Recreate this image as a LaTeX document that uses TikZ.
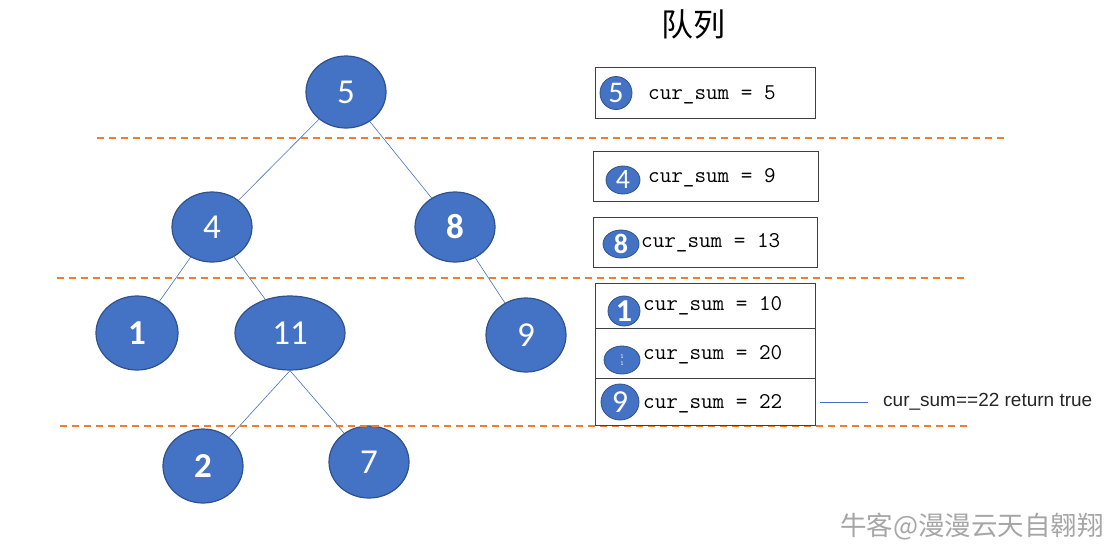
\documentclass[tikz,border=0pt]{standalone}
\usepackage{fontspec}
\setmainfont{Carlito}
\setsansfont{Liberation Sans}
\newfontfamily\cjk{Noto Sans CJK SC}
\usetikzlibrary{shapes.geometric}
\definecolor{nodeblue}{HTML}{4472C4}
\definecolor{nodeline}{HTML}{2F528F}
\definecolor{cutorange}{HTML}{ED7D31}

\begin{document}
\begin{tikzpicture}[x=1pt,y=-1pt,
  tree/.style={ellipse,draw=nodeline,fill=nodeblue,line width=1.2pt,text=white,
    inner sep=0pt,minimum width=80pt,minimum height=72pt,
    font=\fontsize{35}{35}\selectfont},
  badge/.style={ellipse,draw=nodeline,fill=nodeblue,line width=0.8pt,text=white,
    inner sep=0pt,font=\fontsize{28}{28}\selectfont},
  qbox/.style={draw=black!75,line width=0.9pt,minimum width=220pt,inner sep=0pt},
  sumtext/.style={anchor=west,inner sep=0pt,font=\ttfamily\fontsize{22.5}{22.5}\selectfont},
  edge/.style={draw=nodeblue,line width=0.6pt},
  cut/.style={draw=cutorange,line width=1.6pt,dash pattern=on 7pt off 5pt}]
  \useasboundingbox (0,0) rectangle (1113,552);

  % tree
  \node[tree] (n5) at (346,92) {5};
  \node[tree,minimum height=70pt] (n4) at (212,227) {4};
  \node[tree,minimum height=70pt,font=\fontsize{35}{35}\selectfont\bfseries] (n8) at (455,227) {8};
  \node[tree,minimum width=82pt,minimum height=74pt,font=\fontsize{35}{35}\selectfont\bfseries] (n1) at (137,333) {1};
  \node[tree,minimum width=110pt,minimum height=74pt] (n11) at (290,333) {11};
  \node[tree,minimum height=74pt] (n9) at (526,335) {9};
  \node[tree,minimum height=74pt,font=\fontsize{35}{35}\selectfont\bfseries] (n2) at (203,466) {2};
  \node[tree,minimum height=72pt] (n7) at (369,462) {7};

  \draw[edge] (n5) -- (n4);
  \draw[edge] (n5) -- (n8);
  \draw[edge] (n4) -- (n1);
  \draw[edge] (n4) -- (n11);
  \draw[edge] (n8) -- (n9);
  \draw[edge] (n11.south) -- (n2);
  \draw[edge] (n11.south) -- (n7);

  % level cuts
  \coordinate (c1a) at (97,138);  \coordinate (c1b) at (1005,138);
  \coordinate (c2a) at (57,278);  \coordinate (c2b) at (965,278);
  \coordinate (c3a) at (60,426);  \coordinate (c3b) at (968,426);
  \draw[cut] (c1a) -- (c1b);
  \draw[cut] (c2a) -- (c2b);
  \draw[cut] (c3a) -- (c3b);

  % queue
  \node[font=\cjk\fontsize{32}{32}\selectfont] (title) at (693,24) {队列};

  \node[qbox,minimum height=51pt] (q1) at (705,92.5) {};
  \node[qbox,minimum width=225pt,minimum height=50pt] (q2) at (705.5,176) {};
  \node[qbox,minimum width=224pt,minimum height=50pt] (q3) at (705,242) {};
  \node[qbox,minimum height=45pt] (q4) at (705,305.5) {};
  \node[qbox,minimum height=50pt] (q5) at (705,353) {};
  \node[qbox,minimum height=47pt] (q6) at (705,401.5) {};

  \node[badge,minimum width=32pt,minimum height=33pt,font=\fontsize{30}{30}\selectfont] (b1) at (616,93) {5};
  \node[badge,minimum width=34pt,minimum height=28pt] (b2) at (623,180) {4};
  \node[badge,minimum width=36pt,minimum height=28pt,font=\fontsize{28}{28}\selectfont\bfseries] (b3) at (621,244) {8};
  \node[badge,minimum width=32pt,minimum height=30pt,font=\fontsize{32}{32}\selectfont\bfseries] (b4) at (624,311) {1};
  \node[badge,minimum width=36pt,minimum height=28pt,font=\fontsize{6}{6}\selectfont] (b5) at (622,360) {\shortstack{1\\1}};
  \node[badge,minimum width=38pt,minimum height=36pt,font=\fontsize{32}{32}\selectfont] (b6) at (620,402) {9};

  \node[sumtext] (s1) at (648,95) {cur\_sum = 5};
  \node[sumtext] (s2) at (648,178) {cur\_sum = 9};
  \node[sumtext] (s3) at (641,243) {cur\_sum = 13};
  \node[sumtext] (s4) at (643,306) {cur\_sum = 10};
  \node[sumtext] (s5) at (643,355) {cur\_sum = 20};
  \node[sumtext] (s6) at (643,404) {cur\_sum = 22};

  \node[anchor=west,inner sep=0pt,font=\sffamily\fontsize{19}{19}\selectfont,text=black!85] (res) at (883,402) {cur\_sum==22 return true};
  \coordinate (tick) at (820,402);
  \draw[edge] (tick) -- ([xshift=-15pt]res.west);

  % watermark
  \node[anchor=west,inner sep=0pt,text=black!35,font=\cjk\fontsize{26.5}{26.5}\selectfont] (mark) at (840,527) {牛客@漫漫云天自翱翔};
\end{tikzpicture}
\end{document}
